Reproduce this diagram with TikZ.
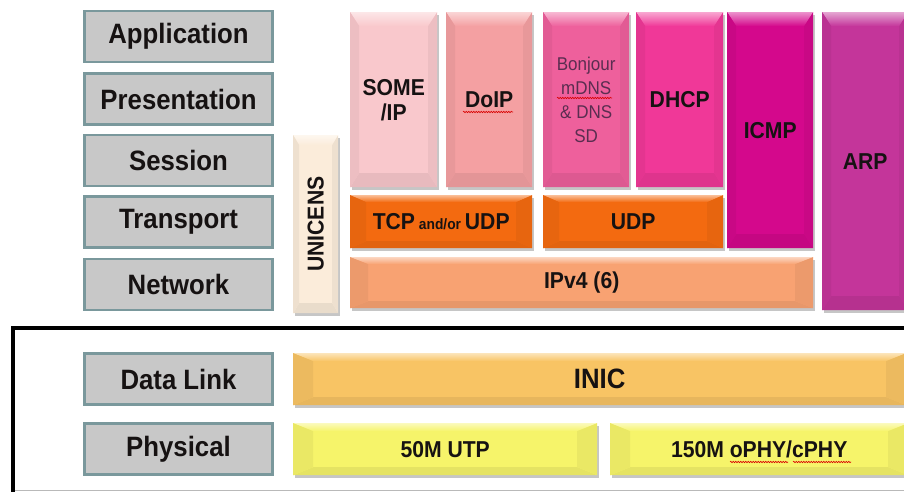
\documentclass[tikz,border=0pt]{standalone}
\usepackage{fontspec}
\setmainfont{Liberation Sans}
\newfontfamily\narrowsans[FakeStretch=0.92]{Liberation Sans}
\usetikzlibrary{shadows,decorations.pathmorphing}

\definecolor{labelfill}{RGB}{200,200,200}
\definecolor{labeledge}{RGB}{122,152,156}
\definecolor{inkc}{RGB}{22,18,18}
\definecolor{cUnicens}{RGB}{251,236,218}
\definecolor{cSome}{RGB}{249,200,204}
\definecolor{cDoip}{RGB}{244,160,162}
\definecolor{cBonjour}{RGB}{238,96,156}
\definecolor{cDhcp}{RGB}{240,56,152}
\definecolor{cIcmp}{RGB}{212,8,140}
\definecolor{cArp}{RGB}{196,53,154}
\definecolor{cTcp}{RGB}{243,106,16}
\definecolor{cIp}{RGB}{248,162,114}
\definecolor{cInic}{RGB}{248,196,100}
\definecolor{cPhy}{RGB}{246,244,106}
\definecolor{cBonjourText}{RGB}{90,45,80}

\tikzset{
  layer/.style={draw=labeledge, line width=2.5pt, fill=labelfill,
    minimum width=188pt, minimum height=51pt, inner sep=0pt, text=inkc,
    font=\narrowsans\fontsize{28}{30}\selectfont\bfseries},
  % beveled block: colour, horizontal bevel, vertical bevel
  block/.style n args={3}{anchor=north west, inner sep=0pt, fill=#1, text=inkc,
    font=\narrowsans\fontsize{23}{25}\selectfont\bfseries, align=center,
    drop shadow={shadow xshift=1.5pt, shadow yshift=-3pt, opacity=0.45},
    path picture={
      \coordinate (bNW) at (path picture bounding box.north west);
      \coordinate (bNE) at (path picture bounding box.north east);
      \coordinate (bSW) at (path picture bounding box.south west);
      \coordinate (bSE) at (path picture bounding box.south east);
      \coordinate (iNW) at ([xshift=#2pt,yshift=-#3pt]bNW);
      \coordinate (iNE) at ([xshift=-#2pt,yshift=-#3pt]bNE);
      \coordinate (iSW) at ([xshift=#2pt,yshift=#3pt]bSW);
      \coordinate (iSE) at ([xshift=-#2pt,yshift=#3pt]bSE);
      \shade[top color=#1!45!white, bottom color=#1] (bNW) -- (bNE) -- (iNE) -- (iNW) -- cycle;
      \fill[#1!93!black] (bSW) -- (bSE) -- (iSE) -- (iSW) -- cycle;
      \fill[#1!95!black] (bNW) -- (iNW) -- (iSW) -- (bSW) -- cycle;
      \fill[#1!95!black] (bNE) -- (iNE) -- (iSE) -- (bSE) -- cycle;
    }},
  squiggle/.style={red!85!black, line width=0.6pt, decorate,
    decoration={snake, amplitude=0.7pt, segment length=2.5pt}},
}

\begin{document}
\begin{tikzpicture}[x=1pt,y=-1pt]
\useasboundingbox (0,0) rectangle (904,491);
\clip (0,0) rectangle (904,491);

% OSI layer labels
\node[layer] (app)  at (178.5,36.5)  {Application};
\node[layer] (pres) at (178.5,99)    {Presentation};
\node[layer] (sess) at (178.5,160.5) {Session};
\node[layer] (trans) at (178.5,222)  {Transport};
\node[layer] (net)  at (178.5,284.5) {Network};
\node[layer] (dl)   at (178.5,379)   {Data Link};
\node[layer] (phy)  at (178.5,449)   {Physical};

% upper protocol stack
\node[block={cUnicens}{6}{10}, minimum width=45pt, minimum height=178pt] (unicens) at (293,135) {};
\node[rotate=90, text=inkc, font=\narrowsans\fontsize{23}{25}\selectfont\bfseries] (unicensText) at (unicens.center) {UNICENS};

\node[block={cSome}{9}{14}, minimum width=87pt, minimum height=175pt] (someip) at (350,12) {SOME\\/IP};
\node[block={cDoip}{9}{14}, minimum width=86pt, minimum height=175pt] (doip) at (446,12) {DoIP};
\node[block={cBonjour}{9}{14}, minimum width=86pt, minimum height=175pt,
      font=\narrowsans\fontsize{18.5}{24}\selectfont, text=cBonjourText] (bonjour) at (543,12) {Bonjour\\mDNS\\\& DNS\\SD};
\node[block={cDhcp}{9}{14}, minimum width=87pt, minimum height=175pt] (dhcp) at (636,12) {DHCP};
\node[block={cIcmp}{9}{14}, minimum width=86pt, minimum height=236pt] (icmp) at (727,12) {ICMP};
\node[block={cArp}{9}{14}, minimum width=86pt, minimum height=298pt] (arp) at (822,12) {ARP};

\node[block={cTcp}{16}{7}, minimum width=182pt, minimum height=53pt] (tcp) at (350,195)
  {TCP{\fontsize{15}{16}\selectfont\ and/or }UDP};
\node[block={cTcp}{16}{7}, minimum width=180pt, minimum height=53pt] (udp) at (543,195) {UDP};
\node[block={cIp}{18}{7}, minimum width=463pt, minimum height=51pt] (ip) at (350,257) {IPv4 (6)};

% lower stack
\node[block={cInic}{20}{8}, minimum width=613pt, minimum height=52pt,
      font=\narrowsans\fontsize{28}{30}\selectfont\bfseries] (inic) at (293,353) {INIC};
\node[block={cPhy}{20}{8}, minimum width=304pt, minimum height=52pt] (utp) at (293,423) {50M UTP};
\node[block={cPhy}{20}{8}, minimum width=298pt, minimum height=52pt] (ophy) at (610,423) {150M oPHY/cPHY};

% spell-check marks under some words
\draw[squiggle] (463,112) -- (513,112);
\draw[squiggle] (557,98) -- (612,98);
\draw[squiggle] (730,462) -- (788,462);
\draw[squiggle] (793,462) -- (851,462);

% frame round the lower layers
\draw[gray!55, line width=0.8pt] (12,490) -- (904,490);
\draw[line width=4pt] (12.5,510) -- (12.5,327.5) -- (920,327.5);
\end{tikzpicture}
\end{document}
